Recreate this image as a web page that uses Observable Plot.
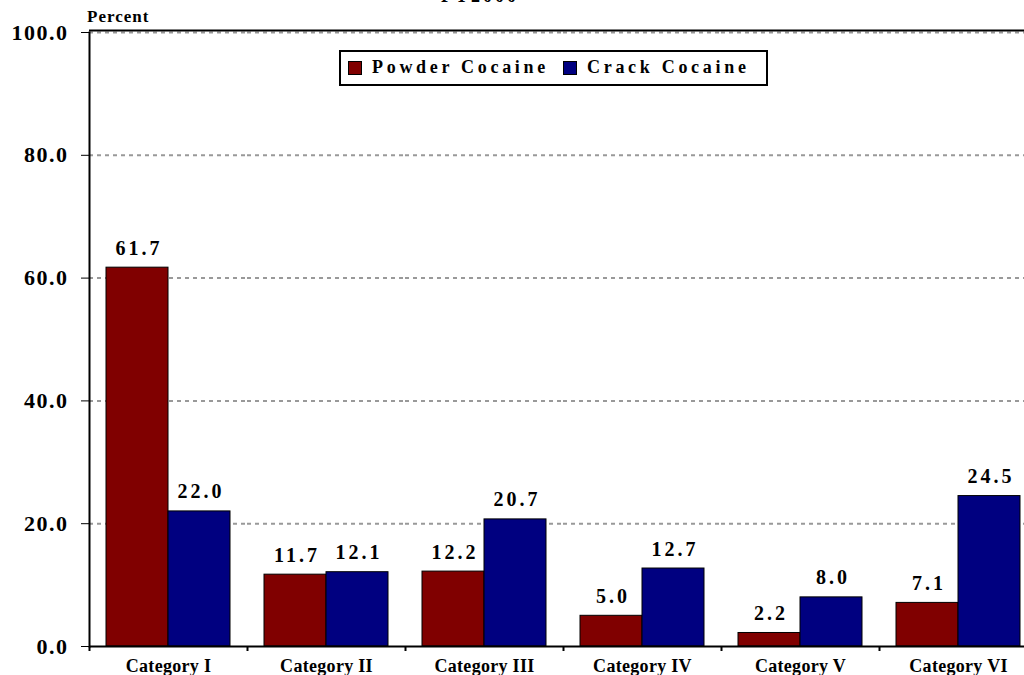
<!DOCTYPE html>
<html><head><meta charset="utf-8">
<script src="https://cdn.jsdelivr.net/npm/d3@7"></script>
<script src="https://cdn.jsdelivr.net/npm/@observablehq/plot@0.6"></script>
<style>
body{margin:0;overflow:hidden;background:#fff;font-family:"Liberation Serif",serif;}
#wrap{position:relative;width:1024px;height:675px;overflow:hidden;}
#wrap svg{max-width:none!important;position:absolute;left:0;top:0;}
#wrap g[aria-label="text"] text{letter-spacing:3px;}
#wrap g[aria-label="y-axis tick label"] text{letter-spacing:1.5px;}
#wrap g[aria-label="fx-axis tick label"] text{letter-spacing:0.3px;}
.title{position:absolute;left:0;width:960px;text-align:center;top:-14px;font-weight:bold;font-size:18px;letter-spacing:3px;}
.percent{position:absolute;left:87px;top:7px;font-weight:bold;font-size:17px;letter-spacing:1px;}
.legend{position:absolute;left:339px;top:50px;width:425px;height:32px;border:2px solid #000;background:#fff;font-weight:bold;font-size:18px;letter-spacing:3.7px;white-space:nowrap;}
.sw{position:absolute;top:9px;width:12px;height:12px;border:1px solid #000;}
.lt{position:absolute;top:5px;line-height:20px;}
</style></head><body><div id="wrap"></div>
<script>
const title = "FY2000";
const categories = ["Category I","Category II","Category III","Category IV","Category V","Category VI"];
const series = ["Powder Cocaine","Crack Cocaine"];
const powder = [61.7,11.7,12.2,5.0,2.2,7.1];
const crack = [22.0,12.1,20.7,12.7,8.0,24.5];
const yTicks = [0,20,40,60,80,100];
const colors = ["#800000","#000080"];

const data = categories.flatMap((c,i)=>[
  {category:c, series:series[0], value:powder[i]},
  {category:c, series:series[1], value:crack[i]}
]);

const W = 1037, ML = 89;
const band = (W - ML) / categories.length;

const plot = Plot.plot({
  width: W, height: 675, marginLeft: ML, marginRight: 0, marginTop: 32, marginBottom: 29,
  style: {fontFamily: "Liberation Serif", maxWidth: "none", overflow: "visible", background: "transparent"},
  fx: {domain: categories, padding: 0, label: null},
  x: {domain: series, paddingInner: 0, paddingOuter: 0.254, axis: null},
  y: {domain: [0, 100], label: null},
  color: {domain: series, range: colors},
  marks: [
    Plot.gridY(yTicks.filter(d => d > 0), {stroke: "#999", strokeOpacity: 1, strokeDasharray: "4,4", strokeWidth: 2}),
    Plot.ruleY([100], {stroke: "#000", strokeWidth: 2, dy: -2}),
    Plot.barY(data, {fx: "category", x: "series", y: "value", fill: "series", stroke: "#000", strokeWidth: 1}),
    Plot.text(data, {fx: "category", x: "series", y: "value", text: d => d.value.toFixed(1), dy: -13, dx: 1.5, lineAnchor: "bottom", fontWeight: "bold", fontSize: 20, fill: "#000"}),
    Plot.ruleY([0], {stroke: "#000", strokeWidth: 2}),
    Plot.frame({anchor: "left", facetAnchor: "left", stroke: "#000", strokeWidth: 2}),
    Plot.axisY({ticks: yTicks, tickFormat: d => d.toFixed(1), tickSize: 8, tickPadding: 13, fontSize: 22, fontWeight: "bold", label: null, stroke: "#000"}),
    Plot.axisFx({anchor: "bottom", tickSize: 0, tickPadding: 13, fontSize: 18, fontWeight: "bold", label: null}),
    Plot.axisFx({anchor: "bottom", text: null, tickSize: 5, dx: -band / 2, label: null, strokeWidth: 2})
  ]
});

const wrap = document.getElementById("wrap");
wrap.appendChild(plot);
const t = document.createElement("div"); t.className = "title"; t.textContent = title; wrap.appendChild(t);
const p = document.createElement("div"); p.className = "percent"; p.textContent = "Percent"; wrap.appendChild(p);
const lg = document.createElement("div"); lg.className = "legend";
const swLeft = [7, 222], txLeft = [31, 246];
series.forEach((s, i) => {
  const sw = document.createElement("span"); sw.className = "sw"; sw.style.background = colors[i]; sw.style.left = swLeft[i] + "px";
  lg.appendChild(sw);
  const tx = document.createElement("span"); tx.className = "lt"; tx.textContent = s; tx.style.left = txLeft[i] + "px"; lg.appendChild(tx);
});
wrap.appendChild(lg);
</script></body></html>
